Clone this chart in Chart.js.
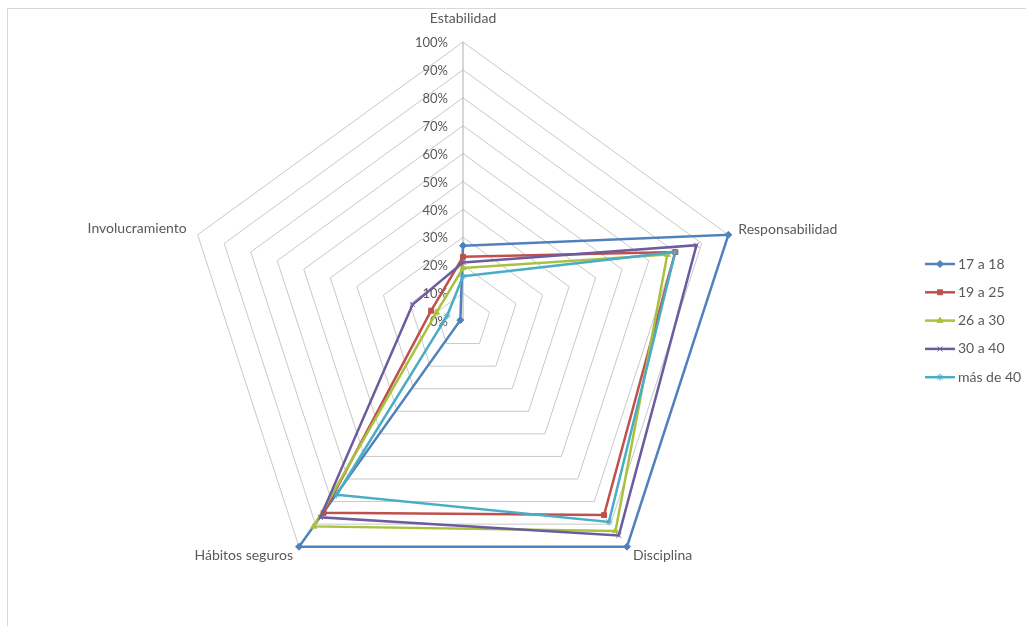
<!DOCTYPE html>
<html>
<head>
<meta charset="utf-8">
<script src="https://cdn.jsdelivr.net/npm/chart.js@4.4.1/dist/chart.umd.min.js"></script>
<style>
  html, body { margin: 0; padding: 0; background: #ffffff; }
  #wrap { position: relative; width: 1026px; height: 626px; }
</style>
</head>
<body>
<div id="wrap"><canvas id="c" width="1026" height="626"></canvas></div>
<script>
// Categories (spokes of the radar, clockwise from the top)
const categories = ['Estabilidad', 'Responsabilidad', 'Disciplina', 'Hábitos seguros', 'Involucramiento'];

// Age groups
const seriesNames = ['17 a 18', '19 a 25', '26 a 30', '30 a 40', 'más de 40'];

// Percentages per category for each age group
const s17a18 = [27, 100, 100, 100, 1];
const s19a25 = [23, 80, 86, 85, 12];
const s26a30 = [19, 77, 93, 91, 10];
const s30a40 = [21, 88, 95, 87, 19];
const sMas40 = [16, 80, 89, 77, 6];

// Radial tick values and labels
const tickValues = [0, 10, 20, 30, 40, 50, 60, 70, 80, 90, 100];
const tickLabels = ['0%', '10%', '20%', '30%', '40%', '50%', '60%', '70%', '80%', '90%', '100%'];

const seriesValues = [s17a18, s19a25, s26a30, s30a40, sMas40];
const seriesColors = ['#4F81BD', '#C0504D', '#A8C23E', '#6E5A9E', '#4BACC6'];
const seriesMarkers = ['rectRot', 'rect', 'triangle', 'crossRot', 'star'];

const FONT = 'Lato, "Open Sans", sans-serif';
const TEXT = '#595959';

const datasets = seriesNames.map((name, i) => ({
  label: name,
  data: seriesValues[i],
  borderColor: seriesColors[i],
  backgroundColor: seriesColors[i],
  pointBackgroundColor: seriesColors[i],
  pointBorderColor: seriesColors[i],
  pointStyle: seriesMarkers[i],
  pointRadius: 3.5,
  pointBorderWidth: 1,
  borderWidth: 2.5,
  fill: false,
  order: seriesNames.length - 1 - i
}));

// Frame around the whole chart
const framePlugin = {
  id: 'frame',
  beforeDraw(chart) {
    const ctx = chart.ctx;
    ctx.save();
    ctx.strokeStyle = '#d9d9d9';
    ctx.lineWidth = 1;
    ctx.strokeRect(7.5, 8.5, 1040, 640);
    ctx.restore();
  }
};

// Percent labels to the left of the vertical axis
const tickLabelPlugin = {
  id: 'tickLabels',
  beforeDatasetsDraw(chart) {
    const scale = chart.scales.r;
    const ctx = chart.ctx;
    ctx.save();
    ctx.font = '13px ' + FONT;
    ctx.fillStyle = TEXT;
    ctx.textAlign = 'right';
    ctx.textBaseline = 'middle';
    tickValues.forEach((v, i) => {
      const d = scale.getDistanceFromCenterForValue(v);
      ctx.fillText(tickLabels[i], scale.xCenter - 15, scale.yCenter - d + 1);
    });
    ctx.restore();
  }
};

// Category names placed beside each outer vertex
const categoryLabelPlugin = {
  id: 'categoryLabels',
  afterDraw(chart) {
    const scale = chart.scales.r;
    const ctx = chart.ctx;
    const offsets = [
      { dx: 0, dy: -24, align: 'center' },
      { dx: 10, dy: -5, align: 'left' },
      { dx: 6, dy: 9, align: 'left' },
      { dx: -6, dy: 9, align: 'right' },
      { dx: -11, dy: -6, align: 'right' }
    ];
    ctx.save();
    ctx.font = '14px ' + FONT;
    ctx.fillStyle = TEXT;
    ctx.textBaseline = 'middle';
    categories.forEach((name, i) => {
      const p = scale.getPointPosition(i, scale.drawingArea);
      const o = offsets[i];
      ctx.textAlign = o.align;
      ctx.fillText(name, p.x + o.dx, p.y + o.dy);
    });
    ctx.restore();
  }
};

// Legend with a line sample and marker for each series
const legendPlugin = {
  id: 'lineLegend',
  afterDraw(chart) {
    const ctx = chart.ctx;
    const x0 = 925, lineLen = 30, y0 = 264, step = 28.3;
    ctx.save();
    ctx.font = '14px ' + FONT;
    ctx.textBaseline = 'middle';
    ctx.textAlign = 'left';
    chart.data.datasets.forEach((ds, i) => {
      const y = y0 + i * step;
      ctx.strokeStyle = ds.borderColor;
      ctx.lineWidth = 2.5;
      ctx.beginPath();
      ctx.moveTo(x0, y);
      ctx.lineTo(x0 + lineLen, y);
      ctx.stroke();
      ctx.fillStyle = ds.borderColor;
      ctx.lineWidth = 1;
      Chart.helpers.drawPoint(ctx, { pointStyle: ds.pointStyle, radius: 3.5, rotation: 0, borderWidth: 1 }, x0 + lineLen / 2, y);
      ctx.fillStyle = TEXT;
      ctx.fillText(ds.label, x0 + lineLen + 3, y);
    });
    ctx.restore();
  }
};

new Chart(document.getElementById('c'), {
  type: 'radar',
  data: { labels: categories, datasets },
  plugins: [framePlugin, tickLabelPlugin, categoryLabelPlugin, legendPlugin],
  options: {
    responsive: false,
    animation: false,
    devicePixelRatio: 1,
    plugins: { legend: { display: false }, tooltip: { enabled: false } },
    elements: { line: { tension: 0 } },
    scales: {
      r: {
        min: 0,
        max: 100,
        ticks: { stepSize: 10, display: false },
        pointLabels: { display: false },
        grid: { color: '#c8c8c8', lineWidth: 1, circular: false },
        angleLines: {
          display: true,
          lineWidth: 1,
          color: (ctx) => (ctx.index === 0 ? '#adadad' : 'rgba(0,0,0,0)')
        },
        afterFit(scale) {
          scale.xCenter = 463;
          scale.yCenter = 321;
          scale.drawingArea = 279;
        }
      }
    }
  }
});
</script>
</body>
</html>
